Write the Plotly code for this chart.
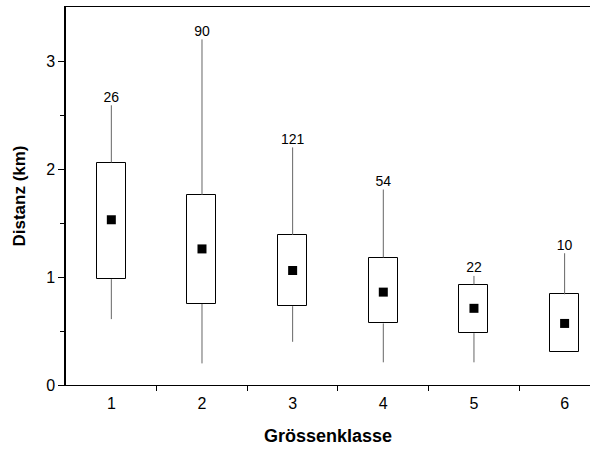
import plotly.graph_objects as go

classes = [1, 2, 3, 4, 5, 6]
tick_labels = ["1", "2", "3", "4", "5", "6"]
q1 = [0.98, 0.75, 0.73, 0.57, 0.48, 0.31]
q3 = [2.06, 1.76, 1.39, 1.18, 0.93, 0.84]
whisker_low = [0.61, 0.20, 0.40, 0.21, 0.21, 0.31]
whisker_high = [2.59, 3.20, 2.20, 1.81, 1.01, 1.22]
means = [1.53, 1.26, 1.06, 0.86, 0.71, 0.57]
counts = ["26", "90", "121", "54", "22", "10"]

FONT = "Liberation Sans, Arial, sans-serif"

fig = go.Figure()

# whiskers (thin gray lines)
for i, c in enumerate(classes):
    fig.add_trace(go.Scatter(
        x=[c, c], y=[whisker_low[i], q1[i]], mode="lines",
        line=dict(color="#666666", width=1), showlegend=False, hoverinfo="skip"))
    fig.add_trace(go.Scatter(
        x=[c, c], y=[q3[i], whisker_high[i]], mode="lines",
        line=dict(color="#666666", width=1), showlegend=False, hoverinfo="skip"))

# boxes
fig.add_trace(go.Bar(
    x=classes, y=[q3[i] - q1[i] for i in range(len(classes))], base=q1,
    width=0.32, marker=dict(color="white", line=dict(color="black", width=1)),
    showlegend=False, hoverinfo="skip"))

# means
fig.add_trace(go.Scatter(
    x=classes, y=means, mode="markers",
    marker=dict(symbol="square", size=9, color="black"),
    showlegend=False))

# counts
fig.add_trace(go.Scatter(
    x=classes, y=whisker_high, mode="text", text=counts,
    textposition="top center", textfont=dict(family=FONT, size=14, color="black"),
    showlegend=False, hoverinfo="skip"))

fig.update_layout(
    width=606, height=452,
    margin=dict(l=66, r=16, t=7, b=67),
    paper_bgcolor="white", plot_bgcolor="white",
    font=dict(family=FONT, color="black"),
    bargap=0,
    xaxis=dict(
        range=[0.5, 6.28], tickmode="array", tickvals=classes, ticktext=tick_labels,
        ticks="", showgrid=False, zeroline=False, automargin=False,
        showline=True, linecolor="black", linewidth=1, mirror=True,
        tickfont=dict(size=16, family=FONT), ticklabelstandoff=4,
        minor=dict(tickmode="array", tickvals=[1.5, 2.5, 3.5, 4.5, 5.5],
                   ticks="outside", ticklen=5, tickcolor="black", showgrid=False),
        title=dict(text="<b>Grössenklasse</b>", font=dict(size=18, family=FONT), standoff=18),
    ),
    yaxis=dict(
        range=[0, 3.5], tickmode="array", tickvals=[0, 1, 2, 3],
        ticks="outside", ticklen=6, tickcolor="black",
        showgrid=False, zeroline=False, automargin=False,
        showline=True, linecolor="black", linewidth=1.5,
        tickfont=dict(size=16, family=FONT),
        minor=dict(tickmode="array", tickvals=[0.5, 1.5, 2.5],
                   ticks="outside", ticklen=4, tickcolor="black", showgrid=False),
        title=dict(text="<b>Distanz (km)</b>", font=dict(size=17, family=FONT), standoff=16),
    ),
)

fig.write_html("out.html", config={"displayModeBar": False},
               post_script="document.body.style.margin='0';")
